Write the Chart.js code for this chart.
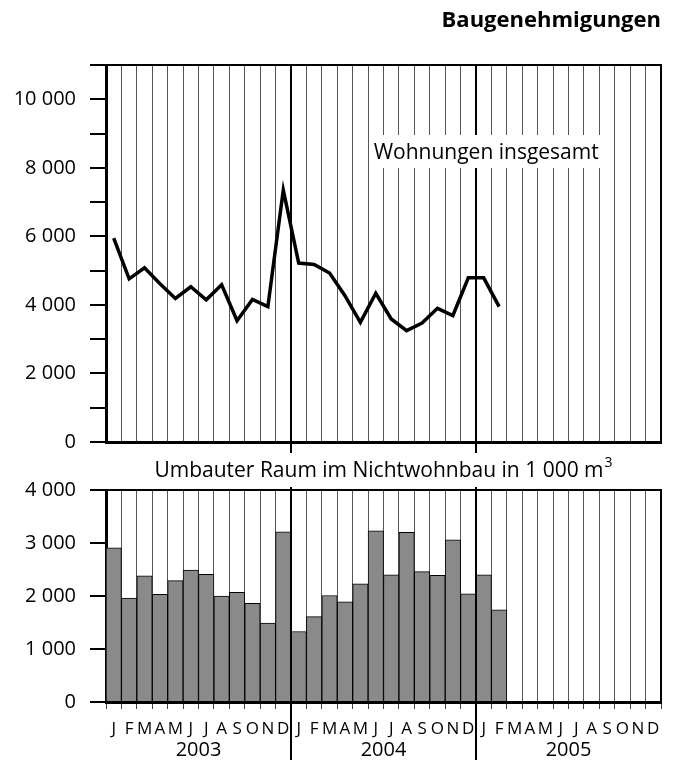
<!DOCTYPE html>
<html>
<head>
<meta charset="utf-8">
<script src="https://cdn.jsdelivr.net/npm/chart.js@4.4.1/dist/chart.umd.min.js"></script>
<style>
  html, body { margin: 0; padding: 0; background: #fff; }
  #wrap { position: relative; width: 674px; height: 762px; }
  .panel { position: absolute; left: 0; width: 674px; }
  #top { top: 0; height: 468px; }
  #bottom { top: 455px; height: 307px; }
</style>
</head>
<body>
<div id="wrap">
  <div class="panel" id="top"><canvas id="wohn-chart"></canvas></div>
  <div class="panel" id="bottom"><canvas id="raum-chart"></canvas></div>
</div>
<script>
// months Jan 2003 .. Dec 2005
const monthLetters = ['J', 'F', 'M', 'A', 'M', 'J', 'J', 'A', 'S', 'O', 'N', 'D'];
const months = [...monthLetters, ...monthLetters, ...monthLetters];
const years = ['2003', '2004', '2005'];

// Wohnungen insgesamt (Jan 2003 .. Feb 2005)
const wohnungen = [5950, 4760, 5080, 4620, 4190, 4530, 4150, 4590, 3540, 4160, 3950, 7350,
                   5220, 5180, 4930, 4270, 3490, 4340, 3590, 3250, 3470, 3900, 3690, 4790,
                   4790, 3950];

// Umbauter Raum im Nichtwohnbau in 1 000 m3
const umbauterRaum = [2910, 1960, 2380, 2030, 2290, 2490, 2410, 2000, 2070, 1860, 1490, 3210,
                      1330, 1610, 2010, 1890, 2230, 3230, 2400, 3200, 2460, 2390, 3060, 2040,
                      2400, 1740];

const wohnTicks = { min: 0, max: 11000, step: 1000, labelEvery: 2000 };
const raumTicks = { min: 0, max: 4000, step: 1000, labelEvery: 1000 };

const FONT = "'Open Sans', sans-serif";
Chart.defaults.font.family = FONT;
Chart.defaults.color = '#000';

const fmt = v => String(v).replace(/\B(?=(\d{3})+(?!\d))/g, ' ');

// year boundaries sit between Dec and Jan
function yearX(x, i) {
    return (x.getPixelForValue(i - 1) + x.getPixelForValue(i)) / 2;
}

const panelDeco = {
    id: 'panelDeco',
    afterDraw(chart, args, opts) {
        const ctx = chart.ctx;
        const ca = chart.chartArea;
        const x = chart.scales.x;
        ctx.save();

        // top + right frame
        ctx.strokeStyle = '#000';
        ctx.lineWidth = 2;
        ctx.beginPath();
        ctx.moveTo(ca.left - 16, ca.top);
        ctx.lineTo(ca.right, ca.top);
        ctx.lineTo(ca.right, ca.bottom);
        ctx.stroke();

        // year lines
        ctx.lineWidth = 2;
        [12, 24].forEach(i => {
            const px = yearX(x, i);
            ctx.beginPath();
            ctx.moveTo(px, ca.top - opts.extTop);
            ctx.lineTo(px, opts.toBottom ? chart.height - 2 : ca.bottom + opts.extBottom);
            ctx.stroke();
        });

        // caption
        if (opts.caption) {
            const c = opts.caption;
            ctx.font = '21px ' + FONT;
            const w = ctx.measureText(c.text).width;
            let w2 = 0;
            if (c.sup) {
                ctx.font = '14px ' + FONT;
                w2 = ctx.measureText(c.sup).width + 1;
                ctx.font = '21px ' + FONT;
            }
            const cx = ca.left + (ca.right - ca.left) * c.rx;
            const x0 = cx - (w + w2) / 2;
            if (c.box) {
                ctx.fillStyle = '#fff';
                ctx.fillRect(x0 - 4, c.y - 24, w + w2 + 8, 33);
            }
            ctx.fillStyle = '#000';
            ctx.textAlign = 'left';
            ctx.textBaseline = 'alphabetic';
            ctx.fillText(c.text, x0, c.y);
            if (c.sup) {
                ctx.font = '14px ' + FONT;
                ctx.fillText(c.sup, x0 + w + 1, c.y - 10);
            }
        }

        // title
        if (opts.title) {
            ctx.font = 'bold 22px ' + FONT;
            ctx.textAlign = 'right';
            ctx.textBaseline = 'alphabetic';
            ctx.fillStyle = '#000';
            ctx.fillText(opts.title, ca.right, 27);
        }

        // year labels
        if (opts.yearLabels) {
            ctx.font = '20px ' + FONT;
            ctx.textAlign = 'center';
            ctx.textBaseline = 'alphabetic';
            ctx.fillStyle = '#000';
            years.forEach((yr, k) => {
                const px = (x.getPixelForValue(k * 12) + x.getPixelForValue(k * 12 + 11)) / 2;
                ctx.fillText(yr, px, ca.bottom + 54);
            });
        }
        ctx.restore();
    }
};

function monthGrid(showTicks) {
    const isYear = c => c.index === 12 || c.index === 24;
    return {
        offset: true,
        color: c => (isYear(c) || c.index === 0) ? 'rgba(0,0,0,0)' : '#555',
        lineWidth: 1,
        drawTicks: showTicks,
        tickLength: 7,
        tickColor: c => isYear(c) ? 'rgba(0,0,0,0)' : '#444',
        tickWidth: 1
    };
}

function yAxis(t, width) {
    return {
        min: t.min,
        max: t.max,
        afterFit: s => { s.width = width; },
        border: { display: true, color: '#000', width: 3 },
        grid: { drawOnChartArea: false, drawTicks: true, tickLength: 16, color: '#000', lineWidth: 2 },
        ticks: {
            stepSize: t.step,
            autoSkip: false,
            padding: 14,
            font: { size: 20 },
            callback: v => v % t.labelEvery === 0 ? fmt(v) : ''
        }
    };
}

new Chart(document.getElementById('wohn-chart'), {
    type: 'line',
    data: {
        labels: months,
        datasets: [{
            data: wohnungen,
            borderColor: '#000',
            borderWidth: 3.5,
            pointRadius: 0,
            tension: 0,
            fill: false
        }]
    },
    options: {
        responsive: true,
        maintainAspectRatio: false,
        animation: false,
        layout: { padding: { left: 0, right: 13, top: 65, bottom: 0 } },
        plugins: {
            legend: { display: false },
            tooltip: { enabled: false },
            panelDeco: {
                extTop: 0,
                extBottom: 11,
                title: 'Baugenehmigungen',
                caption: { text: 'Wohnungen insgesamt', rx: 0.685, y: 159, box: true }
            }
        },
        scales: {
            x: {
                offset: true,
                afterFit: s => { s.height = 14; },
                border: { display: true, color: '#000', width: 3 },
                grid: monthGrid(false),
                ticks: { display: false }
            },
            y: yAxis(wohnTicks, 106)
        }
    },
    plugins: [panelDeco]
});

new Chart(document.getElementById('raum-chart'), {
    type: 'bar',
    data: {
        labels: months,
        datasets: [{
            data: umbauterRaum,
            backgroundColor: '#8a8a8a',
            borderColor: '#000',
            borderWidth: 1,
            barPercentage: 1,
            categoryPercentage: 1
        }]
    },
    options: {
        responsive: true,
        maintainAspectRatio: false,
        animation: false,
        layout: { padding: { left: 0, right: 13, top: 35, bottom: 0 } },
        plugins: {
            legend: { display: false },
            tooltip: { enabled: false },
            panelDeco: {
                extTop: 3,
                toBottom: true,
                yearLabels: true,
                caption: { text: 'Umbauter Raum im Nichtwohnbau in 1 000 m', sup: '3', rx: 0.5, y: 22, box: false }
            }
        },
        scales: {
            x: {
                offset: true,
                afterFit: s => { s.height = 60; },
                border: { display: true, color: '#000', width: 3 },
                grid: monthGrid(true),
                ticks: { autoSkip: false, maxRotation: 0, padding: 10, font: { size: 17 } }
            },
            y: yAxis(raumTicks, 106)
        }
    },
    plugins: [panelDeco]
});
</script>
</body>
</html>
